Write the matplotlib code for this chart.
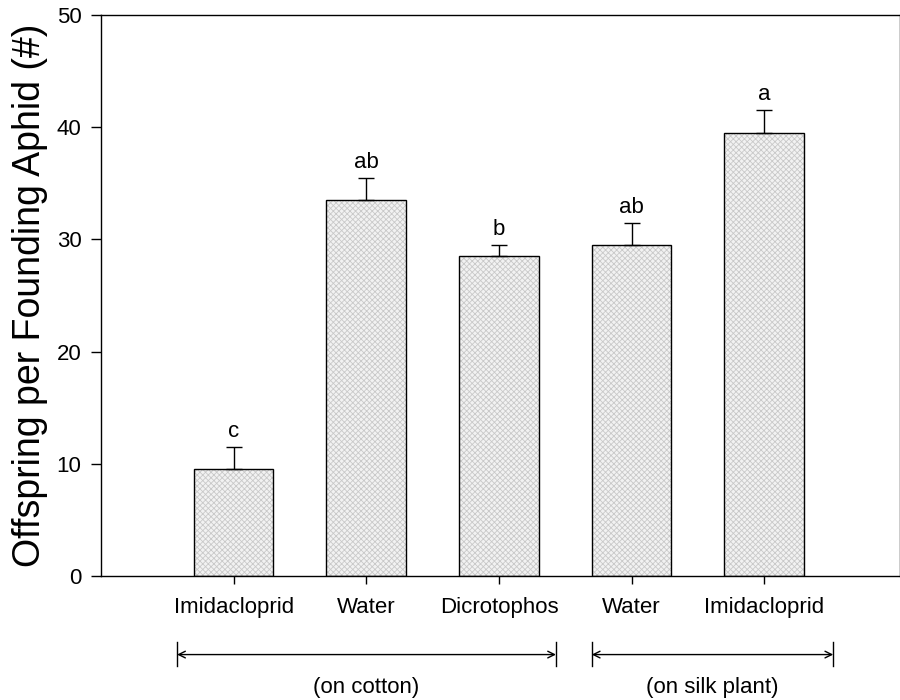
import matplotlib
matplotlib.use("Agg")
import matplotlib.pyplot as plt
import numpy as np

plt.rcParams['font.family'] = ['Liberation Sans', 'DejaVu Sans']
plt.rcParams['hatch.linewidth'] = 0.6

categories = ["Imidacloprid", "Water", "Dicrotophos", "Water", "Imidacloprid"]
means = [9.5, 33.5, 28.5, 29.5, 39.5]
errors = [2.0, 2.0, 1.0, 2.0, 2.0]
letters = ["c", "ab", "b", "ab", "a"]
groups = ["(on cotton)", "(on silk plant)"]
group_spans = [(0.574, 3.43), (3.70, 5.52)]

fig = plt.figure(figsize=(9, 7), dpi=100)
ax = fig.add_axes([0.1122, 0.1771, 0.8873, 0.8014])

x = np.arange(1, len(categories) + 1)
w = 0.6
# textured fill
ax.bar(x, means, width=w, color='#f2f2f2', edgecolor='#c9c9c9', hatch='xxxxxx',
       linewidth=0, zorder=2)
ax.bar(x, means, width=w, fill=False, edgecolor='black', linewidth=1.0, zorder=3)
ax.errorbar(x, means, yerr=[np.zeros(len(errors)), errors], fmt='none',
            ecolor='black', elinewidth=1.0, capsize=5.8, capthick=1.0, zorder=4)

for xi, m, e, l in zip(x, means, errors, letters):
    ax.text(xi, m + e + 0.9, l, ha='center', va='baseline', fontsize=16)

ax.set_xlim(0, 6.02)
ax.set_ylim(0, 50)
ax.set_xticks(x)
ax.set_xticklabels(categories, fontsize=16)
ax.set_yticks([0, 10, 20, 30, 40, 50])
ax.tick_params(axis='y', direction='out', length=7, width=1, labelsize=16, pad=7)
ax.tick_params(axis='x', direction='out', length=6, width=1, labelsize=16, pad=9)
ax.set_ylabel("Offspring per Founding Aphid (#)", fontsize=27, labelpad=6)
for s in ax.spines.values():
    s.set_linewidth(1.0)

# group brackets
for (x0, x1), g in zip(group_spans, groups):
    ax.annotate('', xy=(x0, -7.0), xytext=(x1, -7.0), xycoords='data',
                arrowprops=dict(arrowstyle='<->', lw=1.0, color='black',
                                mutation_scale=12, shrinkA=0, shrinkB=0),
                annotation_clip=False)
    for xe in (x0, x1):
        ax.plot([xe, xe], [-5.9, -8.05], color='black', lw=1.0, clip_on=False)
    ax.text((x0 + x1) / 2, -9.95, g, ha='center', va='center', fontsize=16)

fig.savefig("out.png", dpi=100)
